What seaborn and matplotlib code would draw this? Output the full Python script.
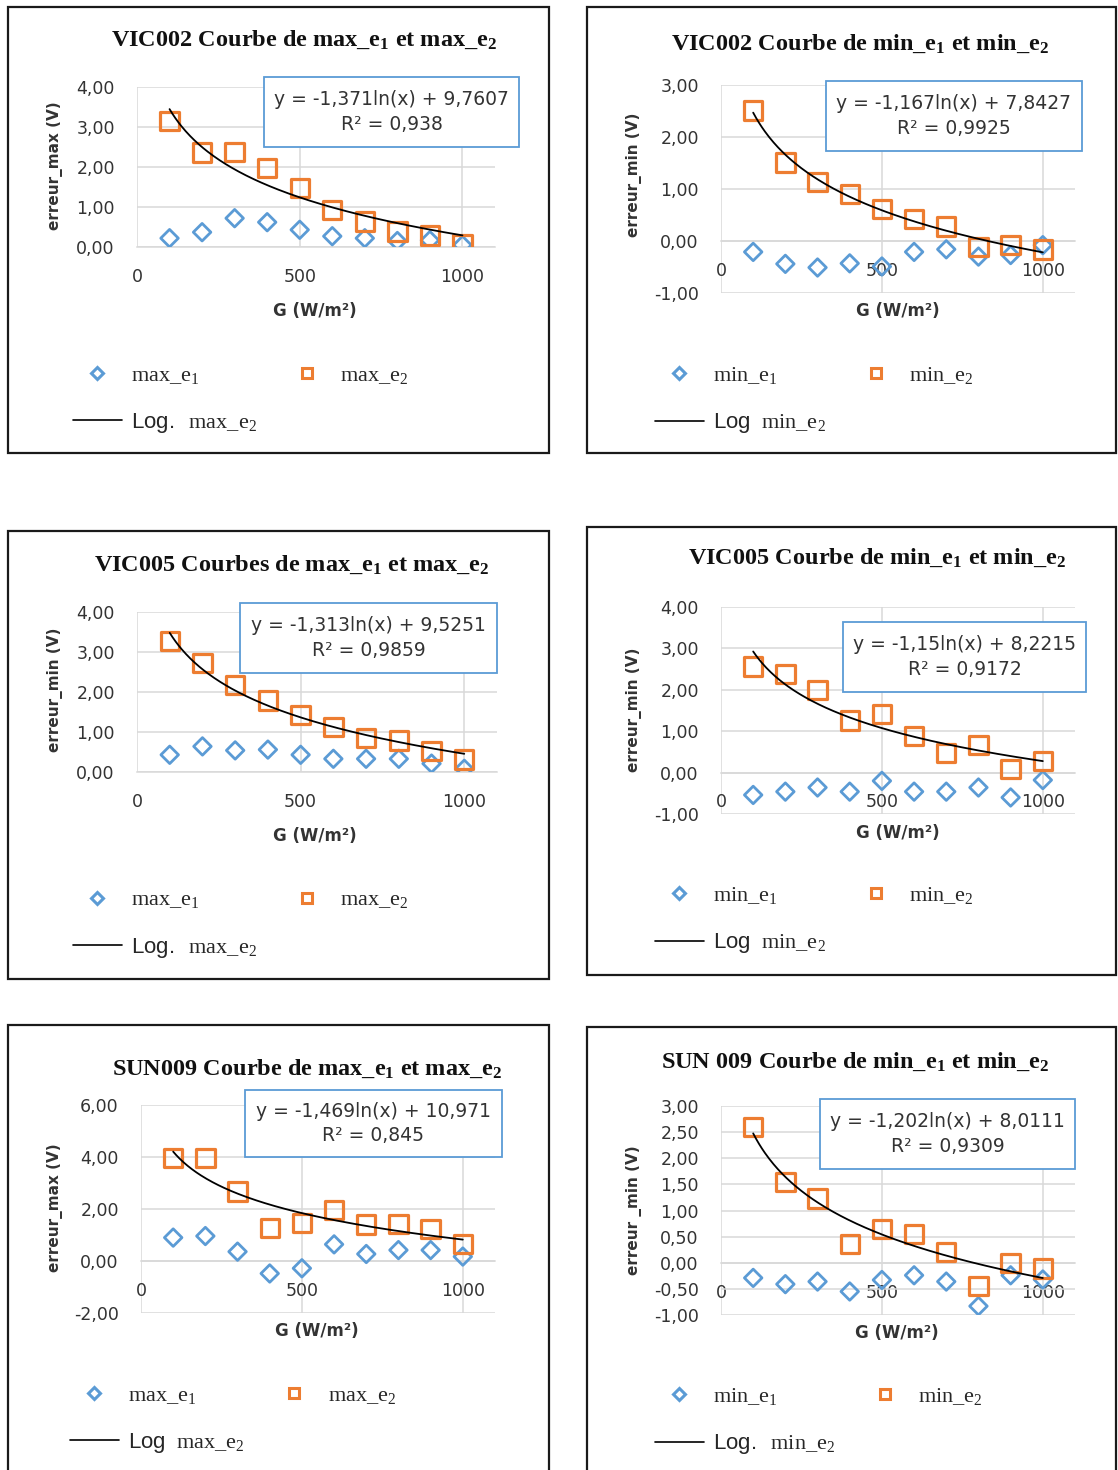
import numpy as np
import pandas as pd
import matplotlib
matplotlib.use("Agg")
import matplotlib.pyplot as plt
import seaborn as sns
from matplotlib.patches import Rectangle
from matplotlib.lines import Line2D
from matplotlib.ticker import FuncFormatter, FixedLocator
from matplotlib.font_manager import FontProperties

# ---------------- data ----------------
G = [100, 200, 300, 400, 500, 600, 700, 800, 900, 1000]

vic002_max_e1 = [0.22, 0.37, 0.72, 0.62, 0.43, 0.27, 0.22, 0.15, 0.17, 0.05]
vic002_max_e2 = [3.15, 2.36, 2.37, 1.98, 1.48, 0.92, 0.64, 0.39, 0.29, 0.08]
vic002_min_e1 = [-0.21, -0.44, -0.51, -0.43, -0.49, -0.21, -0.16, -0.30, -0.27, -0.08]
vic002_min_e2 = [2.51, 1.51, 1.14, 0.90, 0.61, 0.42, 0.28, -0.11, -0.08, -0.16]
vic005_max_e1 = [0.43, 0.64, 0.54, 0.56, 0.43, 0.33, 0.33, 0.33, 0.21, 0.08]
vic005_max_e2 = [3.27, 2.73, 2.18, 1.79, 1.43, 1.13, 0.85, 0.79, 0.53, 0.31]
vic005_min_e1 = [-0.54, -0.46, -0.36, -0.46, -0.20, -0.46, -0.46, -0.36, -0.60, -0.18]
vic005_min_e2 = [2.56, 2.38, 2.00, 1.26, 1.42, 0.88, 0.48, 0.66, 0.08, 0.28]
sun009_max_e1 = [0.90, 0.96, 0.36, -0.48, -0.28, 0.64, 0.27, 0.42, 0.42, 0.17]
sun009_max_e2 = [3.96, 3.96, 2.67, 1.26, 1.45, 1.97, 1.41, 1.43, 1.22, 0.66]
sun009_min_e1 = [-0.29, -0.41, -0.36, -0.55, -0.33, -0.24, -0.36, -0.83, -0.24, -0.32]
sun009_min_e2 = [2.60, 1.55, 1.23, 0.36, 0.64, 0.55, 0.21, -0.45, -0.01, -0.11]

# logarithmic trendline coefficients (y = a ln(x) + b) and labels
fit_a = [-1.371, -1.167, -1.313, -1.15, -1.469, -1.202]
fit_b = [9.7607, 7.8427, 9.5251, 8.2215, 10.971, 8.0111]
eq_labels = ["y = -1,371ln(x) + 9,7607\nR² = 0,938",
             "y = -1,167ln(x) + 7,8427\nR² = 0,9925",
             "y = -1,313ln(x) + 9,5251\nR² = 0,9859",
             "y = -1,15ln(x) + 8,2215\nR² = 0,9172",
             "y = -1,469ln(x) + 10,971\nR² = 0,845",
             "y = -1,202ln(x) + 8,0111\nR² = 0,9309"]

titles = [r"VIC002 Courbe de max_e$_\mathbf{1}$ et max_e$_\mathbf{2}$",
          r"VIC002 Courbe de min_e$_\mathbf{1}$ et min_e$_\mathbf{2}$",
          r"VIC005 Courbes de max_e$_\mathbf{1}$ et max_e$_\mathbf{2}$",
          r"VIC005 Courbe de min_e$_\mathbf{1}$ et min_e$_\mathbf{2}$",
          r"SUN009 Courbe de max_e$_\mathbf{1}$ et max_e$_\mathbf{2}$",
          r"SUN 009 Courbe de min_e$_\mathbf{1}$ et min_e$_\mathbf{2}$"]
ylabels = ["erreur_max (V)", "erreur_min (V)", "erreur_min (V)",
           "erreur_min (V)", "erreur_max (V)", "erreur _min (V)"]
xlabel = "G (W/m²)"
leg_e1 = ["max_e$_1$", "min_e$_1$", "max_e$_1$", "min_e$_1$", "max_e$_1$", "min_e$_1$"]
leg_e2 = ["max_e$_2$", "min_e$_2$", "max_e$_2$", "min_e$_2$", "max_e$_2$", "min_e$_2$"]
leg_log = [r"$\mathsf{Log.}$  max_e$_2$", r"$\mathsf{Log}$  min_e$_2$",
           r"$\mathsf{Log.}$  max_e$_2$", r"$\mathsf{Log}$  min_e$_2$",
           r"$\mathsf{Log}$  max_e$_2$", r"$\mathsf{Log.}$  min_e$_2$"]

series_e1 = [vic002_max_e1, vic002_min_e1, vic005_max_e1, vic005_min_e1, sun009_max_e1, sun009_min_e1]
series_e2 = [vic002_max_e2, vic002_min_e2, vic005_max_e2, vic005_min_e2, sun009_max_e2, sun009_min_e2]

# ---------------- layout (pixels) ----------------
layout = [
    dict(frame=(8, 7, 549, 453), ax=(137, 495, 87, 247), ylim=(0, 4), ystep=1,
         title=(304, 40), eq=(264, 77, 519, 147), ylab=(55, 166), xlab=(315, 311), leg=(73, 400)),
    dict(frame=(587, 7, 1116, 453), ax=(721, 1075, 85, 293), ylim=(-1, 3), ystep=1,
         title=(860, 44), eq=(826, 81, 1082, 151), ylab=(634, 175), xlab=(898, 311), leg=(655, 400)),
    dict(frame=(8, 531, 549, 979), ax=(137, 497, 612, 772), ylim=(0, 4), ystep=1,
         title=(292, 565), eq=(240, 603, 497, 673), ylab=(55, 690), xlab=(315, 836), leg=(73, 925)),
    dict(frame=(587, 527, 1116, 975), ax=(721, 1075, 607, 814), ylim=(-1, 4), ystep=1,
         title=(877, 558), eq=(843, 622, 1086, 692), ylab=(634, 710), xlab=(898, 833), leg=(655, 920)),
    dict(frame=(8, 1025, 549, 1480), ax=(141, 495, 1105, 1313), ylim=(-2, 6), ystep=2,
         title=(307, 1069), eq=(245, 1090, 502, 1157), ylab=(55, 1208), xlab=(317, 1331), leg=(70, 1420)),
    dict(frame=(587, 1027, 1116, 1480), ax=(721, 1075, 1106, 1315), ylim=(-1, 3), ystep=0.5,
         title=(855, 1062), eq=(820, 1099, 1075, 1169), ylab=(634, 1210), xlab=(897, 1333), leg=(655, 1421)),
]

BLUE = "#5B9BD5"
ORANGE = "#ED7D31"
GRID = "#D9D9D9"
TXT = "#333333"

sns.set_theme(style="white")
plt.rcParams["font.family"] = ["DejaVu Sans"]
plt.rcParams["mathtext.fontset"] = "custom"
plt.rcParams["mathtext.rm"] = "Liberation Serif"
plt.rcParams["mathtext.bf"] = "Liberation Serif:bold"
plt.rcParams["mathtext.it"] = "Liberation Serif:italic"
plt.rcParams["mathtext.sf"] = "Liberation Sans"

W, H = 1118, 1470
fig = plt.figure(figsize=(W / 100, H / 100), dpi=100)
fig.patch.set_facecolor("white")


def fx(px):
    return px / W


def fy(py):
    return 1 - py / H


comma2 = FuncFormatter(lambda v, p: f"{v:.2f}".replace(".", ","))

for i, L in enumerate(layout):
    x0, x1, yt, yb = L["ax"]
    ax = fig.add_axes([fx(x0), fy(yb), (x1 - x0) / W, (yb - yt) / H])
    ax.set_facecolor("none")
    df = pd.DataFrame({"G": G, "e1": series_e1[i], "e2": series_e2[i]})

    sns.scatterplot(data=df, x="G", y="e1", marker="D", s=80, facecolor="none",
                    edgecolor=BLUE, linewidth=2.0, ax=ax, zorder=3, legend=False)
    sns.scatterplot(data=df, x="G", y="e2", marker="s", s=175, facecolor="none",
                    edgecolor=ORANGE, linewidth=2.3, ax=ax, zorder=4, legend=False)
    xfit = np.linspace(G[0], G[-1], 200)
    yfit = fit_a[i] * np.log(xfit) + fit_b[i]
    sns.lineplot(x=xfit, y=yfit, color="black", linewidth=1.3, ax=ax, zorder=5, legend=False)

    ymin, ymax = L["ylim"]
    ax.set_xlim(0, 1100)
    ax.set_ylim(ymin, ymax)
    ax.xaxis.set_major_locator(FixedLocator([0, 500, 1000]))
    ax.yaxis.set_major_locator(FixedLocator(np.arange(ymin, ymax + 1e-9, L["ystep"])))
    ax.yaxis.set_major_formatter(comma2)
    ax.grid(True, color=GRID, linewidth=1.1)
    ax.set_axisbelow(True)
    for s in ["top", "right", "left"]:
        ax.spines[s].set_visible(False)
    ax.spines["bottom"].set_position(("data", 0))
    ax.spines["bottom"].set_color(GRID)
    ax.spines["bottom"].set_linewidth(1.1)
    ax.tick_params(axis="both", length=0, labelsize=12.5, labelcolor=TXT)
    ax.tick_params(axis="x", pad=15)
    ax.tick_params(axis="y", pad=16)

    # labels
    ax.set_ylabel(ylabels[i], fontsize=11, fontweight="bold", color=TXT)
    ax.yaxis.label.set_va("center")
    ax.yaxis.set_label_coords((L["ylab"][0] - x0) / (x1 - x0), (yb - L["ylab"][1]) / (yb - yt))
    ax.set_xlabel(xlabel, fontsize=12, fontweight="bold", color=TXT)
    ax.xaxis.label.set_va("center")
    ax.xaxis.set_label_coords((L["xlab"][0] - x0) / (x1 - x0), (yb - L["xlab"][1]) / (yb - yt))

    ax.set_title(titles[i], x=(L["title"][0] - x0) / (x1 - x0), y=(yb - L["title"][1]) / (yb - yt),
                 pad=0, va="center", fontsize=17.5, fontweight="bold", family="Liberation Serif",
                 color="#111111")

    # legend
    h1 = Line2D([], [], ls="none", marker="D", ms=6.5, mfc="none", mec=BLUE, mew=2.2)
    h2 = Line2D([], [], ls="none", marker="s", ms=7.5, mfc="none", mec=ORANGE, mew=2.2)
    h3 = Line2D([], [], color="black", lw=1.2)
    ax.legend([h1, h3, h2], [leg_e1[i], leg_log[i], leg_e2[i]], ncol=2, loc="center left",
              bbox_to_anchor=(fx(L["leg"][0]), fy(L["leg"][1])), bbox_transform=fig.transFigure,
              frameon=False, borderpad=0, borderaxespad=0, handlelength=2.2, handletextpad=0.4,
              columnspacing=1.15, labelspacing=1.15,
              prop=FontProperties(family="Liberation Serif", size=16))

    # equation box
    ex0, ey0, ex1, ey1 = L["eq"]
    fig.add_artist(Rectangle((fx(ex0), fy(ey1)), (ex1 - ex0) / W, (ey1 - ey0) / H,
                             transform=fig.transFigure, facecolor="white", edgecolor=BLUE,
                             linewidth=1.3, zorder=6))
    fig.text(fx((ex0 + ex1) / 2), fy((ey0 + ey1) / 2), eq_labels[i], ha="center", va="center",
             multialignment="center", fontsize=13.5, color=TXT, linespacing=1.35, zorder=7)

    # chart frame
    fx0, fy0, fx1, fy1 = L["frame"]
    fig.add_artist(Rectangle((fx(fx0), fy(fy1)), (fx1 - fx0) / W, (fy1 - fy0) / H,
                             transform=fig.transFigure, fill=False, edgecolor="#1a1a1a",
                             linewidth=1.6, zorder=8))

fig.savefig("out.png", dpi=100)
